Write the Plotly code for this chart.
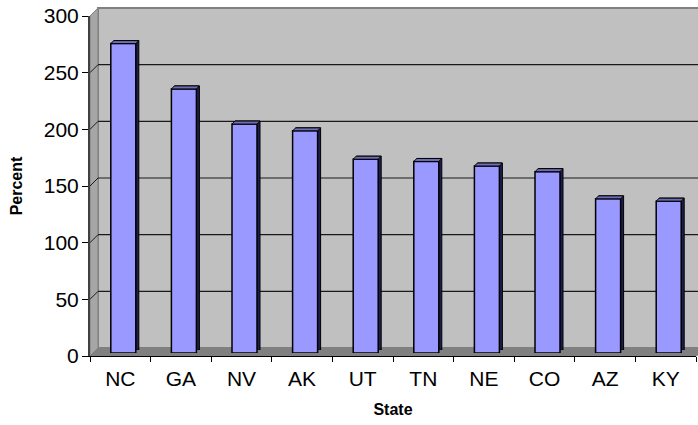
import plotly.graph_objects as go

# ---- data ----
states = ["NC", "GA", "NV", "AK", "UT", "TN", "NE", "CO", "AZ", "KY"]
percent = [273, 233, 202, 196, 171, 169, 165, 160, 136, 134]
y_ticks = [0, 50, 100, 150, 200, 250, 300]
grid_vals = [50, 100, 150, 200, 250]

# ---- layout constants (pixels) ----
W, H = 698, 425
ML, MR, MT, MB = 90, 0, 8, 69
PW, PH = W - ML - MR, H - MT - MB           # plot area 608 x 348
AX_W, AX_H = 606, 340                        # front axis extent
PITCH = AX_W / len(states)
WALL = 8          # depth of the walls
FRONT = 3         # front face of bars offset
BACK = 6          # back face of bars offset
HALF = 12.5       # half bar width in px

FONT = "Liberation Sans, Arial, sans-serif"

def fx(p):
    return p / PW

def fy(p):
    return p / PH

def xdom(s):
    return [s / PW, 1]

def xrng(s):
    return [-0.5, -0.5 + (PW - s) / PITCH]

def ydom(s):
    return [s / PH, (AX_H + s) / PH]

fig = go.Figure()

# invisible trace for the back wall axes
fig.add_trace(go.Scatter(x=states, y=percent, xaxis="x", yaxis="y", mode="markers",
                         marker=dict(opacity=0), hoverinfo="skip", showlegend=False))
# depth (dark) bars
fig.add_trace(go.Bar(x=states, y=percent, xaxis="x2", yaxis="y2",
                     width=2 * HALF / PITCH,
                     marker=dict(color="#1E1E4E", line=dict(color="#000000", width=1)),
                     hoverinfo="skip", showlegend=False))
# front bars
fig.add_trace(go.Bar(x=states, y=percent, xaxis="x3", yaxis="y3",
                     width=2 * HALF / PITCH,
                     marker=dict(color="#9999FF", line=dict(color="#000000", width=1.5)),
                     showlegend=False))
# invisible trace carrying the labelled front axes
fig.add_trace(go.Scatter(x=states, y=percent, xaxis="x4", yaxis="y4", mode="markers",
                         marker=dict(opacity=0), hoverinfo="skip", showlegend=False))

shapes = []
# back wall (offset by WALL px right and up)
shapes.append(dict(type="rect", xref="paper", yref="paper", layer="below",
                   x0=fx(WALL), x1=1.02, y0=fy(WALL), y1=1,
                   fillcolor="#C0C0C0", line=dict(color="#808080", width=2)))
# left wall
shapes.append(dict(type="path", xref="paper", yref="paper", layer="below",
                   path=f"M0,0 L{fx(WALL)},{fy(WALL)} L{fx(WALL)},1 L0,{fy(AX_H)} Z",
                   fillcolor="#A6A6A6", line=dict(color="#808080", width=1)))
# floor
shapes.append(dict(type="path", xref="paper", yref="paper", layer="below",
                   path=f"M0,0 L{fx(WALL)},{fy(WALL)} L1.02,{fy(WALL)} L{fx(AX_W)},0 Z",
                   fillcolor="#808080", line=dict(color="#808080", width=1)))
# back wall gridlines
for v in grid_vals:
    shapes.append(dict(type="line", xref="paper", yref="y", layer="below",
                       x0=fx(WALL), x1=1.02, y0=v, y1=v,
                       line=dict(color="#1A1A1A", width=1.2)))
# left wall gridline diagonals
for v in grid_vals:
    shapes.append(dict(type="line", xref="paper", yref="y4", layer="below",
                       xsizemode="pixel", ysizemode="pixel",
                       xanchor=0, yanchor=v, x0=0, y0=0, x1=WALL, y1=WALL,
                       line=dict(color="#1A1A1A", width=1)))
# bar top faces
d = BACK - FRONT
for i, v in enumerate(percent):
    shapes.append(dict(type="path", xref="x3", yref="y3", layer="above",
                       xsizemode="pixel", ysizemode="pixel", xanchor=i, yanchor=v,
                       path=f"M{-HALF},0 L{-HALF + d},{d} L{HALF + d},{d} L{HALF},0 Z",
                       fillcolor="#6E6EB8", line=dict(color="#000000", width=1)))

hidden_x = dict(showticklabels=False, showline=False, showgrid=False, zeroline=False,
                ticks="", type="category", categoryorder="array", categoryarray=states,
                automargin=False)
hidden_y = dict(showticklabels=False, showline=False, showgrid=False, zeroline=False,
                ticks="", range=[0, 300], automargin=False)

fig.update_layout(
    width=W, height=H,
    margin=dict(l=ML, r=MR, t=MT, b=MB, autoexpand=False),
    paper_bgcolor="#FFFFFF", plot_bgcolor="rgba(0,0,0,0)",
    font=dict(family=FONT, color="#000000", size=21),
    shapes=shapes,
    bargap=0,
    # back wall
    xaxis=dict(hidden_x, domain=xdom(WALL), range=xrng(WALL), anchor="y"),
    yaxis=dict(hidden_y, domain=ydom(WALL), anchor="x"),
    # depth bars
    xaxis2=dict(hidden_x, domain=xdom(BACK), range=xrng(BACK), anchor="y2"),
    yaxis2=dict(hidden_y, domain=ydom(BACK), anchor="x2"),
    # front bars
    xaxis3=dict(hidden_x, domain=xdom(FRONT), range=xrng(FRONT), anchor="y3"),
    yaxis3=dict(hidden_y, domain=ydom(FRONT), anchor="x3"),
    # labelled front axes
    xaxis4=dict(type="category", categoryorder="array", categoryarray=states,
                domain=[0, AX_W / PW], range=[-0.5, len(states) - 0.5], anchor="y4",
                tickson="boundaries", ticks="outside", ticklen=5, tickcolor="#000000",
                showline=True, linecolor="#000000", linewidth=1, showgrid=False,
                zeroline=False, tickfont=dict(size=21), automargin=False,
                ticklabelstandoff=4, ticklabeloverflow="allow",
                title=dict(text="<b>State</b>", font=dict(size=16), standoff=14)),
    yaxis4=dict(domain=[0, AX_H / PH], range=[0, 300], anchor="x4",
                tickvals=y_ticks, ticks="outside", ticklen=6, tickcolor="#000000",
                showline=True, linecolor="#404040", linewidth=2, showgrid=False,
                zeroline=False, tickfont=dict(size=21), automargin=False,
                ticklabelstandoff=-1, ticklabeloverflow="allow",
                title=dict(text="<b>Percent</b>", font=dict(size=16), standoff=17)),
)

fig.write_html("out.html",
               config={"displayModeBar": False, "staticPlot": True},
               post_script="document.body.style.margin='0';document.body.style.overflow='hidden';")
